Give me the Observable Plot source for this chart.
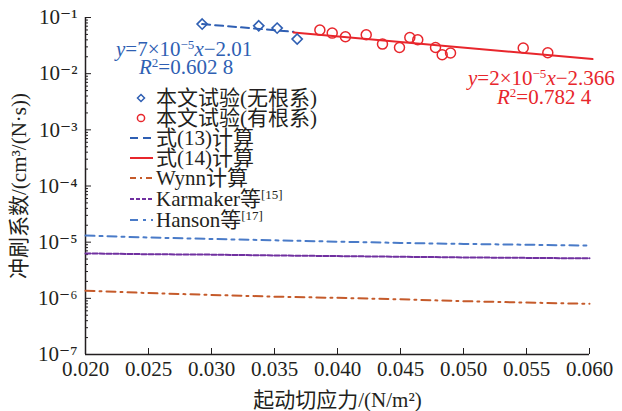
<!DOCTYPE html>
<html><head><meta charset="utf-8">
<script src="https://cdn.jsdelivr.net/npm/d3@7"></script>
<script src="https://cdn.jsdelivr.net/npm/@observablehq/plot@0.6"></script>
<style>
body{margin:0;background:#fff;}
#wrap{position:relative;width:622px;height:411px;font-family:"Liberation Serif","Times New Roman","DejaVu Serif","Noto Sans CJK SC",serif;color:#231f20;}
.lab{position:absolute;white-space:nowrap;line-height:18px;height:18px;}
.row{position:absolute;left:126px;height:20px;line-height:20px;display:flex;align-items:center;font-size:21px;white-space:nowrap;}
.row svg{width:30px;height:20px;flex:none;}
i{font-style:italic;}
sup{font-size:62%;vertical-align:0;position:relative;top:-0.55em;line-height:0;}
</style></head><body><div id="wrap"></div>
<script>
// ---- data ----
const xTicks = [0.020, 0.025, 0.030, 0.035, 0.040, 0.045, 0.050, 0.055, 0.060];
const yTicks = [1e-7, 1e-6, 1e-5, 1e-4, 1e-3, 1e-2, 1e-1];
const xDomain = [0.020, 0.060];
const yDomain = [1e-7, 1e-1];

// 本文试验(无根系)
const noRootX = [0.02926, 0.03375, 0.03521, 0.03680];
const noRootY = [0.0763, 0.0711, 0.0647, 0.0413];
// 本文试验(有根系)
const rootX = [0.03860, 0.03958, 0.04063, 0.04228, 0.04357, 0.04492, 0.04574, 0.04637, 0.04778, 0.04831, 0.04897, 0.05474, 0.05669];
const rootY = [0.0597, 0.0527, 0.0454, 0.0492, 0.0336, 0.0293, 0.0441, 0.0401, 0.0293, 0.0217, 0.0233, 0.0286, 0.0236];
// 式(13) / 式(14)
const fit13X = [0.02926, 0.03651];
const fit13Y = [0.0763, 0.0557];
const fit14X = [0.03651, 0.06024];
const fit14Y = [0.0541, 0.0182];
// literature curves
const curveX = [0.020, 0.025, 0.030, 0.035, 0.040, 0.045, 0.050, 0.055, 0.060];
const hansonY = [1.31e-5, 1.21e-5, 1.14e-5, 1.08e-5, 1.02e-5, 9.7e-6, 9.3e-6, 9.0e-6, 8.7e-6];
const karmakerY = [6.3e-6, 6.1e-6, 6.0e-6, 5.8e-6, 5.65e-6, 5.5e-6, 5.35e-6, 5.25e-6, 5.15e-6];
const wynnY = [1.37e-6, 1.24e-6, 1.15e-6, 1.07e-6, 1.02e-6, 9.6e-7, 8.9e-7, 8.4e-7, 8.0e-7];

const C = {blue: "#2f5fb3", red: "#e8262c", orange: "#c55a2a", purple: "#7030a0", hanson: "#4a7bc8"};
const FONT = '"Liberation Serif","Times New Roman","DejaVu Serif","Noto Sans CJK SC",serif';

const toRows = (xs, ys) => xs.map((x, i) => ({x, y: ys[i]}));
const yMinor = [];
for (let e = -7; e < -1; e++) for (let m = 2; m <= 9; m++) yMinor.push(m * Math.pow(10, e));
const supMap = {"-": "⁻", "0": "⁰", "1": "¹", "2": "²", "3": "³", "4": "⁴", "5": "⁵", "6": "⁶", "7": "⁷", "8": "⁸", "9": "⁹"};
const supFmt = d => "10" + String(Math.round(Math.log10(d))).split("").map(c => supMap[c]).join("");

const plot = Plot.plot({
  width: 622, height: 411,
  marginLeft: 85, marginRight: 33, marginTop: 17, marginBottom: 57,
  style: {fontFamily: FONT, fontSize: "21px", color: "#231f20", background: "#fff"},
  x: {domain: xDomain},
  y: {type: "log", domain: yDomain},
  marks: [
    Plot.axisX({ticks: xTicks, tickFormat: d3.format(".3f"), tickSize: -6, tickPadding: 13, label: "起动切应力/(N/m²)", labelAnchor: "center", labelArrow: "none", labelOffset: 52}),
    Plot.axisY({ticks: yTicks, tickFormat: supFmt, tickSize: -6, tickPadding: 14, label: "冲刷系数/(cm³/(N·s))", labelAnchor: "center", labelArrow: "none", labelOffset: 74}),
    Plot.axisY({ticks: yMinor, tickFormat: () => "", tickSize: -3, label: null}),
    Plot.ruleX([xDomain[0]], {stroke: "#231f20", strokeWidth: 1.5}),
    Plot.ruleY([yDomain[0]], {stroke: "#231f20", strokeWidth: 1.5}),
    Plot.line(toRows(curveX, hansonY), {x: "x", y: "y", stroke: C.hanson, strokeWidth: 2, strokeDasharray: "9,5,3,5"}),
    Plot.line(toRows(curveX, karmakerY), {x: "x", y: "y", stroke: C.purple, strokeWidth: 2, strokeDasharray: "5,2"}),
    Plot.line(toRows(curveX, wynnY), {x: "x", y: "y", stroke: C.orange, strokeWidth: 2, strokeDasharray: "9,5,2,5"}),
    Plot.line(toRows(fit13X, fit13Y), {x: "x", y: "y", stroke: C.blue, strokeWidth: 2, strokeDasharray: "8,5"}),
    Plot.line(toRows(fit14X, fit14Y), {x: "x", y: "y", stroke: C.red, strokeWidth: 2}),
    Plot.dot(toRows(noRootX, noRootY), {x: "x", y: "y", symbol: "diamond2", r: 4.6, stroke: C.blue, strokeWidth: 1.6, fill: "none"}),
    Plot.dot(toRows(rootX, rootY), {x: "x", y: "y", r: 5, stroke: C.red, strokeWidth: 1.5, fill: "none"})
  ]
});
const wrap = document.getElementById("wrap");
wrap.appendChild(plot);

// annotations (regression equations)
function lab(html, left, top, size, color) {
  const d = document.createElement("div");
  d.className = "lab"; d.innerHTML = html;
  d.style.left = left + "px"; d.style.top = top + "px"; d.style.fontSize = size + "px"; d.style.color = color;
  wrap.appendChild(d);
}
lab('<i>y</i>=7×10<sup>−5</sup><i>x</i>−2.01', 116, 40, 21, C.blue);
lab('<i>R</i><sup>2</sup>=0.602 8', 139, 58, 21, C.blue);
lab('<i>y</i>=2×10<sup>−5</sup><i>x</i>−2.366', 468, 69, 21, C.red);
lab('<i>R</i><sup>2</sup>=0.782 4', 497, 88, 21, C.red);

// legend
const legend = [
  {label: "本文试验(无根系)", kind: "diamond", color: C.blue},
  {label: "本文试验(有根系)", kind: "circle", color: C.red},
  {label: "式(13)计算", kind: "line", color: C.blue, dash: "8,5"},
  {label: "式(14)计算", kind: "line", color: C.red, dash: null},
  {label: "Wynn计算", kind: "line", color: C.orange, dash: "6,4,2,4"},
  {label: "Karmaker等<sup>[15]</sup>", kind: "line", color: C.purple, dash: "4,2"},
  {label: "Hanson等<sup>[17]</sup>", kind: "line", color: C.hanson, dash: "8,5,3,5"}
];
const rowY = [97.5, 117.5, 137.7, 157.7, 178.3, 199, 220];
legend.forEach((e, i) => {
  const r = document.createElement("div");
  r.className = "row"; r.style.top = (rowY[i] - 10) + "px";
  let sym;
  if (e.kind === "diamond") sym = `<polygon points="15,6.5 18.5,10 15,13.5 11.5,10" fill="none" stroke="${e.color}" stroke-width="1.5"/>`;
  else if (e.kind === "circle") sym = `<circle cx="15" cy="10" r="3.6" fill="none" stroke="${e.color}" stroke-width="1.5"/>`;
  else sym = `<line x1="4" y1="10" x2="27" y2="10" stroke="${e.color}" stroke-width="2" ${e.dash ? `stroke-dasharray="${e.dash}"` : ""}/>`;
  r.innerHTML = `<svg viewBox="0 0 30 20">${sym}</svg><span>${e.label}</span>`;
  wrap.appendChild(r);
});
</script></body></html>
